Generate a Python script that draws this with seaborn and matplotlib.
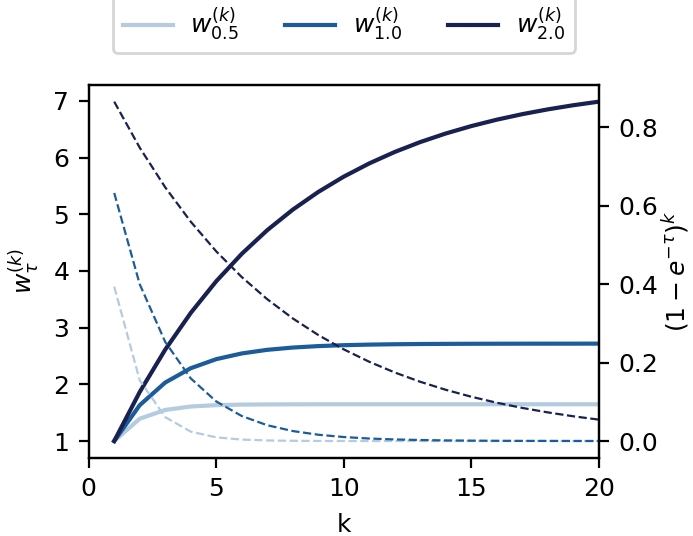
import numpy as np
import pandas as pd
import matplotlib
matplotlib.use("Agg")
import matplotlib.pyplot as plt
import seaborn as sns

# ----------------------------------------------
# Values, k = 1..20
# ----------------------------------------------
k_vals = list(range(1, 21))
taus = ["0.5", "1.0", "2.0"]
colors = ["#b4cbe0", "#1c5c9a", "#182150"]

w_05 = [1.0, 1.3935, 1.5483, 1.6092, 1.6331, 1.6425, 1.6462, 1.6477, 1.6483, 1.6485,
        1.6486, 1.6487, 1.6487, 1.6487, 1.6487, 1.6487, 1.6487, 1.6487, 1.6487, 1.6487]
w_10 = [1.0, 1.6321, 2.0317, 2.2843, 2.4440, 2.5449, 2.6087, 2.6490, 2.6745, 2.6906,
        2.7008, 2.7072, 2.7113, 2.7139, 2.7155, 2.7165, 2.7171, 2.7175, 2.7178, 2.7180]
w_20 = [1.0, 1.8647, 2.6123, 3.2588, 3.8178, 4.3011, 4.7190, 5.0803, 5.3928, 5.6629,
        5.8965, 6.0985, 6.2732, 6.4242, 6.5548, 6.6677, 6.7653, 6.8497, 6.9227, 6.9858]

p_05 = [0.3935, 0.1548, 0.0609, 0.0240, 0.0094, 0.0037, 0.0015, 0.0006, 0.0002, 0.0001,
        0.0, 0.0, 0.0, 0.0, 0.0, 0.0, 0.0, 0.0, 0.0, 0.0]
p_10 = [0.6321, 0.3996, 0.2526, 0.1597, 0.1009, 0.0638, 0.0403, 0.0255, 0.0161, 0.0102,
        0.0064, 0.0041, 0.0026, 0.0016, 0.0010, 0.0006, 0.0004, 0.0003, 0.0002, 0.0001]
p_20 = [0.8647, 0.7476, 0.6465, 0.5590, 0.4833, 0.4179, 0.3614, 0.3125, 0.2702, 0.2336,
        0.2020, 0.1747, 0.1510, 0.1306, 0.1129, 0.0976, 0.0844, 0.0730, 0.0631, 0.0546]

w_series = [w_05, w_10, w_20]
p_series = [p_05, p_10, p_20]

plt.rcParams["font.size"] = 9

fig, ax = plt.subplots(figsize=(3.465, 2.68), dpi=200)
ax2 = ax.twinx()

for tau, c, w, p in zip(taus, colors, w_series, p_series):
    sns.lineplot(x=k_vals, y=w, ax=ax, color=c, linewidth=1.5,
                 label=r"$w_{%s}^{(k)}$" % tau)
    sns.lineplot(x=k_vals, y=p, ax=ax2, color=c, linewidth=0.8, linestyle="--")

ax.set_xlim(0, 20)
ax.set_xticks([0, 5, 10, 15, 20])
ax.set_xlabel("k")
ax.set_ylabel(r"$w_{\tau}^{(k)}$")
ax2.set_ylabel(r"$(1-e^{-\tau})^k$", labelpad=1)

ax.legend(loc="lower center", bbox_to_anchor=(0.5, 1.085), ncol=3,
          fontsize=9, handlelength=2.0, handletextpad=0.7,
          columnspacing=1.85, borderpad=0.4, borderaxespad=0)

fig.subplots_adjust(left=0.128, right=0.864, top=0.842, bottom=0.1455)
fig.savefig("out.png", dpi=200)
